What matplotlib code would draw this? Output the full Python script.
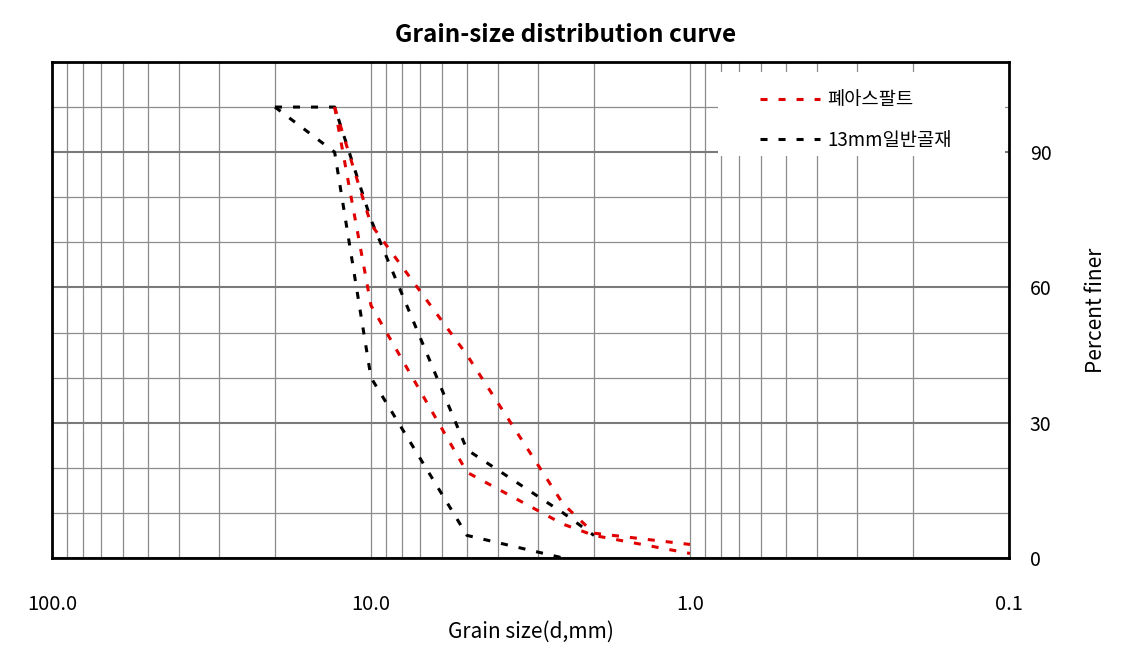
import matplotlib
matplotlib.use('Agg')
import matplotlib.pyplot as plt
from matplotlib.ticker import FixedLocator, MultipleLocator, NullFormatter, LogLocator
from matplotlib.patches import Rectangle

plt.rcParams['font.family'] = ['Noto Sans CJK KR', 'DejaVu Sans']

# 폐아스팔트 grading band (fine / coarse limit)
asphalt_size = [13, 10, 5, 2.5, 2.0, 1.0]
asphalt_fine = [100, 74, 45, 12, 5.5, 3]
asphalt_coarse = [100, 56, 19, 7.5, 5, 1]

# 13mm 일반골재 grading band
agg_fine_size = [20, 13, 10, 5, 2.5, 2.0]
agg_fine = [100, 100, 75, 24, 10, 5]
agg_coarse_size = [20, 13, 10, 5, 2.5]
agg_coarse = [100, 90, 40, 5, 0]

x_ticks = [100, 10, 1, 0.1]
x_tick_labels = ['100.0', '10.0', '1.0', '0.1']
y_ticks = [0, 30, 60, 90]

fig = plt.figure(figsize=(11.25, 6.51), dpi=100)
ax = fig.add_axes([0.0462, 0.1429, 0.8507, 0.7619])

dash = (0, (2.3, 3.6))
red = '#e00000'
ax.plot(asphalt_size, asphalt_fine, color=red, lw=2.2, ls=dash, label='폐아스팔트', zorder=4)
ax.plot(asphalt_size, asphalt_coarse, color=red, lw=2.2, ls=dash, zorder=4)
ax.plot(agg_fine_size, agg_fine, color='black', lw=2.2, ls=dash, label='13mm일반골재', zorder=3)
ax.plot(agg_coarse_size, agg_coarse, color='black', lw=2.2, ls=dash, zorder=3)

ax.set_xscale('log')
ax.set_xlim(100, 0.1)
ax.set_ylim(0, 110)
ax.xaxis.set_major_locator(FixedLocator(x_ticks))
ax.set_xticklabels(x_tick_labels)
ax.xaxis.set_minor_locator(LogLocator(base=10, subs=range(2, 10)))
ax.xaxis.set_minor_formatter(NullFormatter())
ax.yaxis.set_major_locator(FixedLocator(y_ticks))
ax.yaxis.set_minor_locator(MultipleLocator(10))
ax.yaxis.tick_right()
ax.yaxis.set_label_position('right')

ax.set_axisbelow(True)
ax.grid(which='major', axis='y', color='#7a7a7a', lw=1.5)
ax.grid(which='minor', axis='y', color='#8c8c8c', lw=0.9)
ax.grid(which='both', axis='x', color='#8c8c8c', lw=0.9)

ax.tick_params(axis='both', which='both', length=0)
ax.tick_params(axis='x', pad=26, labelsize=14.5)
ax.tick_params(axis='y', pad=15, labelsize=14)
for s in ax.spines.values():
    s.set_linewidth(2)
    s.set_color('black')

ax.set_xlabel('Grain size(d,mm)', fontsize=15, labelpad=4)
ax.set_ylabel('Percent finer', fontsize=15, labelpad=24)
fig.text(0.503, 0.946, 'Grain-size distribution curve', ha='center', va='center',
         fontsize=17.5, fontweight='bold')

# white box behind the legend, hides the grid there
ax.add_patch(Rectangle((0.696, 0.81), 0.3, 0.17, transform=ax.transAxes,
                       facecolor='white', edgecolor='none', zorder=2))
ax.legend(loc='center left', bbox_to_anchor=(0.74, 0.883), frameon=False,
          fontsize=13.5, handlelength=3.2, handletextpad=0.4, labelspacing=1.05,
          borderpad=0, borderaxespad=0)

plt.savefig('out.png', dpi=100)
